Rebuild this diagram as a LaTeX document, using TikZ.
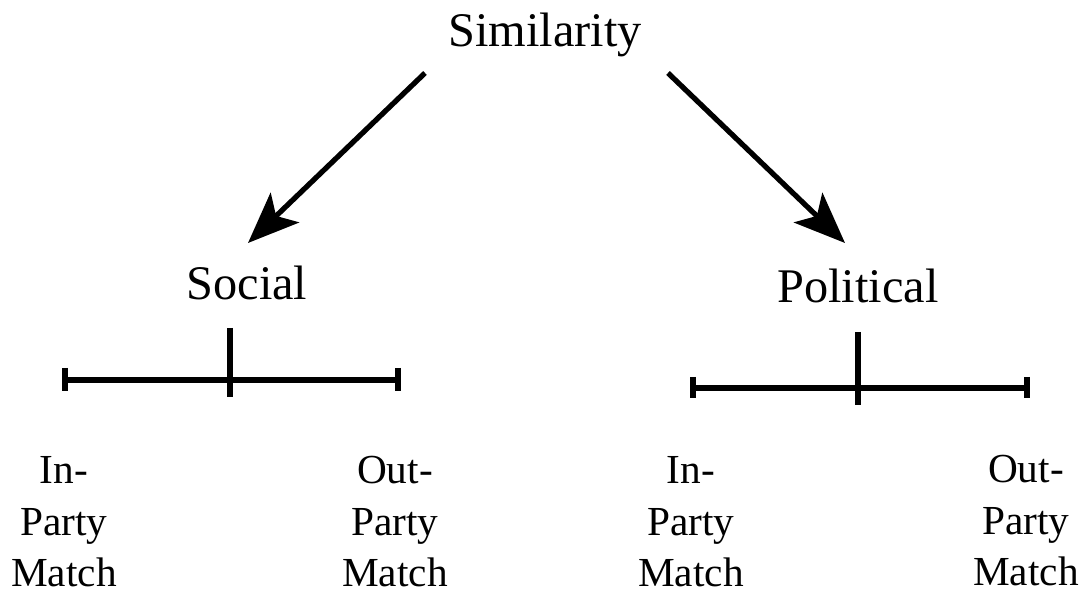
\documentclass[tikz,border=0pt]{standalone}
\usepackage{fontspec}
\setmainfont{Liberation Serif}
\usetikzlibrary{arrows.meta}
\begin{document}
\begin{tikzpicture}[x=0.02cm,y=-0.02cm,
  head/.style={font=\fontsize{27.5pt}{31pt}\selectfont, inner sep=0pt, anchor=base},
  lab/.style={font=\fontsize{23.5pt}{29.5pt}\selectfont, inner sep=0pt, align=center, anchor=base, text depth=0pt},
  arr/.style={line width=3pt, -{Stealth[length=1.02cm,width=0.82cm,inset=0.24cm]}},
  barline/.style={line width=3.8pt},
  tickline/.style={line width=3.4pt}]
\useasboundingbox (0,0) rectangle (1083,594);
% headings
\node[head] (sim) at (545,47) {Similarity};
\node[head] (soc) at (247,300) {Social};
\node[head] (pol) at (858,303) {Political};
% arrows
\coordinate (la1) at (425,73); \coordinate (la2) at (248,243);
\coordinate (ra1) at (668,73); \coordinate (ra2) at (845,243);
\draw[arr] (la1) -- (la2);
\draw[arr] (ra1) -- (ra2);
% left scale
\coordinate (lL) at (65,380); \coordinate (lR) at (398,380);
\coordinate (lLt) at (65,368); \coordinate (lLb) at (65,391);
\coordinate (lRt) at (398,368); \coordinate (lRb) at (398,391);
\coordinate (lMt) at (230,328); \coordinate (lMb) at (230,397);
\draw[barline] (lL) -- (lR);
\draw[tickline] (lLt) -- (lLb);
\draw[tickline] (lRt) -- (lRb);
\draw[tickline] (lMt) -- (lMb);
% right scale
\coordinate (rL) at (693,388); \coordinate (rR) at (1027,388);
\coordinate (rLt) at (693,377); \coordinate (rLb) at (693,398);
\coordinate (rRt) at (1027,377); \coordinate (rRb) at (1027,398);
\coordinate (rMt) at (858,332); \coordinate (rMb) at (858,405);
\draw[barline] (rL) -- (rR);
\draw[tickline] (rLt) -- (rLb);
\draw[tickline] (rRt) -- (rRb);
\draw[tickline] (rMt) -- (rMb);
% labels
\node[lab] (lin) at (64,587) {In-\\Party\\Match};
\node[lab] (lout) at (395,587) {Out-\\Party\\Match};
\node[lab] (rin) at (691,587) {In-\\Party\\Match};
\node[lab] (rout) at (1026,586) {Out-\\Party\\Match};
\end{tikzpicture}
\end{document}
